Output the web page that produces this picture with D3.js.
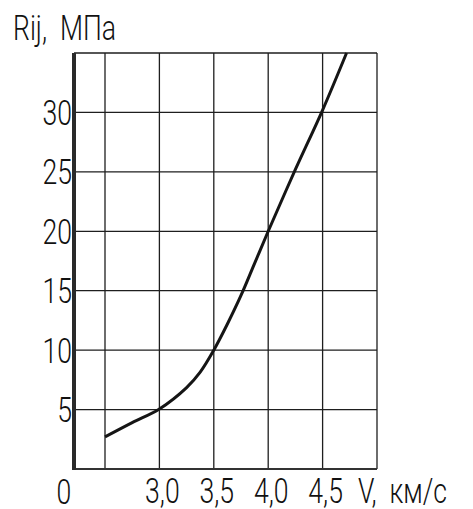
<!DOCTYPE html>
<html>
<head>
<meta charset="utf-8">
<script src="https://cdn.jsdelivr.net/npm/d3@7"></script>
<style>
  body { margin: 0; background: #fff; }
  text { font-family: Roboto, Inter, "DejaVu Sans", sans-serif; font-weight: 300; fill: #111; white-space: pre; }
</style>
</head>
<body>
<div id="chart"></div>
<script>
// curve R(V)
var speed = [2.5, 2.75, 3.0, 3.25, 3.375, 3.5, 3.625, 3.75, 3.875, 4.0, 4.25, 4.5, 4.72];
var strength = [2.7, 3.9, 5.05, 6.85, 8.15, 10.0, 12.2, 14.6, 17.3, 20.0, 25.2, 30.2, 35.0];

var xGrid = [2.5, 3.0, 3.5, 4.0, 4.5, 5.0];
var xTicks = [3.0, 3.5, 4.0, 4.5];
var xTickLabels = ["3,0", "3,5", "4,0", "4,5"];
var yTicks = [5, 10, 15, 20, 25, 30];
var yTickLabels = ["5", "10", "15", "20", "25", "30"];

var width = 473,
  height = 509;
var mLeft = 74, mRight = 377, mTop = 53, mBottom = 469;
var gap = 31; // broken axis: space between the axis and the first grid line
var fs = 35, sx = 0.76;

var svg = d3.select("#chart")
  .append("svg")
  .attr("width", width)
  .attr("height", height);

var x = d3.scaleLinear().domain([2.5, 5.0]).range([mLeft + gap, mRight]);
var y = d3.scaleLinear().domain([0, 35]).range([mBottom, mTop]);

// narrow text helper
function label(g, str, px, py, anchor) {
  g.append("g")
    .attr("transform", "translate(" + px + "," + py + ") scale(" + sx + ",1)")
    .append("text")
    .attr("text-anchor", anchor)
    .attr("font-size", fs)
    .text(str);
}

//grid
var grid = svg.append("g").attr("class", "grid");
grid.selectAll(".vline")
  .data(xGrid)
  .enter().append("line")
  .attr("class", "vline")
  .attr("x1", d => x(d)).attr("x2", d => x(d))
  .attr("y1", y(35)).attr("y2", y(0))
  .attr("stroke", "#1e1e1e").attr("stroke-width", 1.3)

grid.selectAll(".hline")
  .data(yTicks.concat([35]))
  .enter().append("line")
  .attr("class", "hline")
  .attr("x1", mLeft).attr("x2", mRight)
  .attr("y1", d => y(d)).attr("y2", d => y(d))
  .attr("stroke", "#1e1e1e").attr("stroke-width", 1.3)

// bottom and left axes
svg.append("line")
  .attr("x1", mLeft).attr("x2", mRight)
  .attr("y1", y(0)).attr("y2", y(0))
  .attr("stroke", "#333").attr("stroke-width", 2.2)
svg.append("line")
  .attr("x1", mLeft).attr("x2", mLeft)
  .attr("y1", y(35)).attr("y2", y(0) + 1)
  .attr("stroke", "#2a2a2a").attr("stroke-width", 4)

//curve
var pts = speed.map((v, i) => [v, strength[i]]);
var line = d3.line()
  .x(d => x(d[0]))
  .y(d => y(d[1]))
  .curve(d3.curveCatmullRom);
svg.append("path")
  .datum(pts)
  .attr("d", line)
  .attr("fill", "none")
  .attr("stroke", "#151515")
  .attr("stroke-width", 3)

//labels
var lab = svg.append("g").attr("class", "labels");
yTicks.forEach(function (t, i) {
  label(lab, yTickLabels[i], mLeft - 2, y(t) + fs * 0.36, "end");
});
xTicks.forEach(function (t, i) {
  label(lab, xTickLabels[i], x(t) + 3, 503, "middle");
});
label(lab, "0", mLeft - 10, 504, "middle");
label(lab, "V,  км/с", mRight - 19, 503, "start");
label(lab, "Rij,  МПа", 13, 40, "start");
</script>
</body>
</html>
